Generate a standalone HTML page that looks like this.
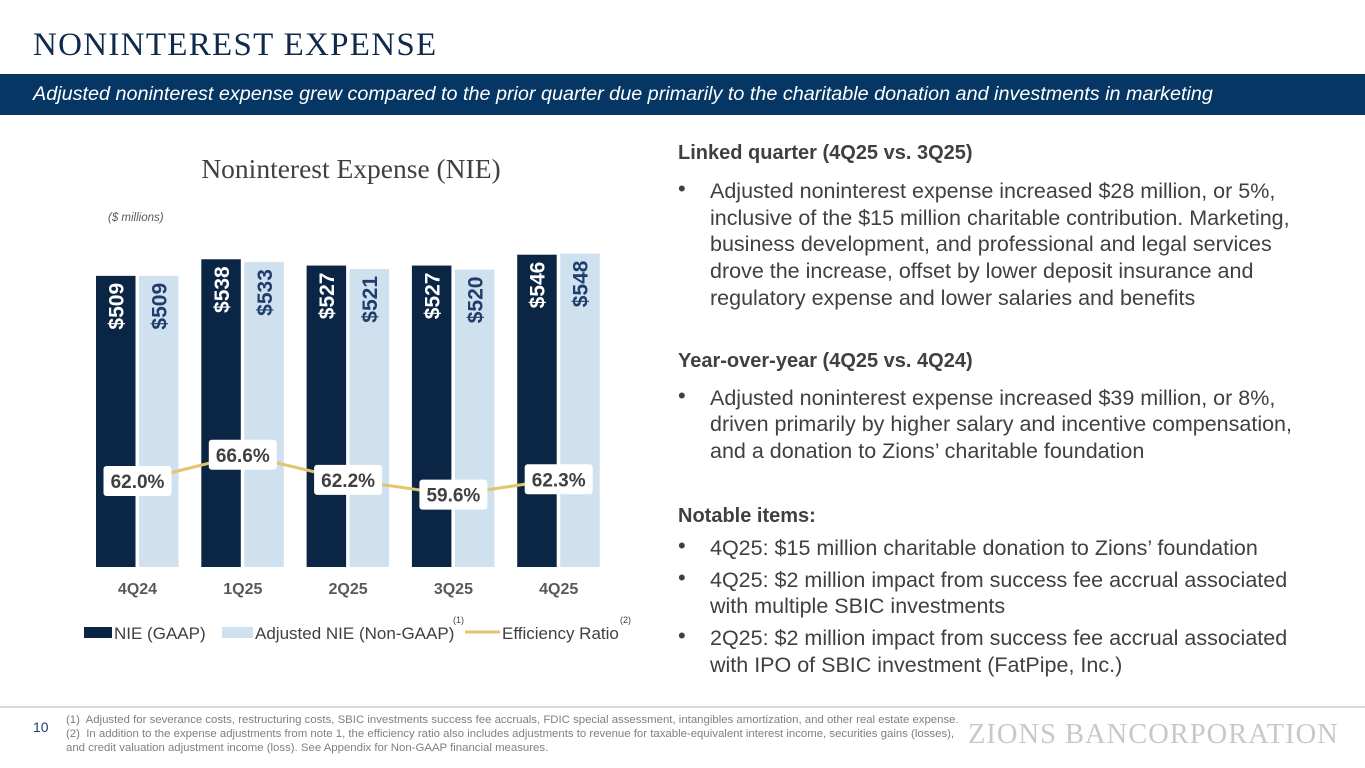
<!DOCTYPE html>
<html><head><meta charset="utf-8">
<style>
body{margin:0;width:1365px;height:768px;position:relative;background:#fff;font-family:"Liberation Sans",sans-serif;overflow:hidden}
.abs{position:absolute}
#title{left:33px;top:27px;font-family:"Liberation Serif",serif;font-size:33px;color:#0f2a4a;letter-spacing:1.3px}
#band{left:0;top:74px;width:1365px;height:41px;background:#063764}
#band span{position:absolute;left:33px;top:9px;color:#fff;font-style:italic;font-size:19.8px;white-space:nowrap}
#rtext{left:678px;top:140px;width:630px;color:#404040;font-size:21.5px;line-height:26.8px}
.h{font-weight:bold;margin:0;font-size:20px}
.b{position:relative;padding-left:32px;margin:0}
.b:before{content:"•";position:absolute;left:0;top:-2px;font-size:22px}
#foot{left:66px;top:713px;font-size:11.4px;color:#7f7f7f;line-height:14px;white-space:nowrap}
#pg{left:33px;top:719px;font-size:14px;color:#1f3c6b}
#logo{left:968px;top:719px;font-family:"Liberation Serif",serif;font-size:28.5px;color:#c8c8c8;letter-spacing:1px;white-space:nowrap}
</style></head><body>
<div id="title" class="abs">NONINTEREST EXPENSE</div>
<div id="band" class="abs"><span>Adjusted noninterest expense grew compared to the prior quarter due primarily to the charitable donation and investments in marketing</span></div>
<svg class="abs" style="left:0;top:0" width="660" height="700">
<text x="351" y="178" text-anchor="middle" font-family="Liberation Serif,serif" font-size="27.5" fill="#404040">Noninterest Expense (NIE)</text>
<text x="108" y="221" font-size="11.5" font-style="italic" fill="#595959">($ millions)</text>
<g id="bars"></g><g id="line"></g><g id="xlabels"></g>
<g>
<rect x="84" y="627" width="28" height="11" fill="#0b2545"/>
<text x="114" y="639" font-size="17" fill="#404040">NIE (GAAP)</text>
<rect x="222" y="627" width="31" height="11" fill="#cfe0ee"/>
<text x="255" y="639" font-size="17" fill="#404040">Adjusted NIE (Non-GAAP)</text>
<text x="453" y="623" font-size="9" fill="#404040">(1)</text>
<line x1="465" y1="632" x2="500" y2="632" stroke="#e3c46f" stroke-width="3"/>
<text x="502" y="639" font-size="17" fill="#404040">Efficiency Ratio</text>
<text x="620" y="623" font-size="9" fill="#404040">(2)</text>
</g>
</svg>
<div id="rtext" class="abs">
<p class="h">Linked quarter (4Q25 vs. 3Q25)</p>
<p class="b" style="margin-top:11px">Adjusted noninterest expense increased $28 million, or 5%, inclusive of the $15 million charitable contribution. Marketing, business development, and professional and legal services drove the increase, offset by lower deposit insurance and regulatory expense and lower salaries and benefits</p>
<p class="h" style="margin-top:36px">Year-over-year (4Q25 vs. 4Q24)</p>
<p class="b" style="margin-top:10px">Adjusted noninterest expense increased $39 million, or 8%, driven primarily by higher salary and incentive compensation, and a donation to Zions’ charitable foundation</p>
<p class="h" style="margin-top:38px">Notable items:</p>
<p class="b" style="margin-top:5px">4Q25: $15 million charitable donation to Zions’ foundation</p>
<p class="b" style="margin-top:5px">4Q25: $2 million impact from success fee accrual associated with multiple SBIC investments</p>
<p class="b" style="margin-top:5px">2Q25: $2 million impact from success fee accrual associated with IPO of SBIC investment (FatPipe, Inc.)</p>
</div>
<div class="abs" style="left:0;top:706px;width:1365px;height:2px;background:#d9d9d9"></div>
<div id="pg" class="abs">10</div>
<div id="foot" class="abs">(1)&nbsp; Adjusted for severance costs, restructuring costs, SBIC investments success fee accruals, FDIC special assessment, intangibles amortization, and other real estate expense.<br>(2)&nbsp; In addition to the expense adjustments from note 1, the efficiency ratio also includes adjustments to revenue for taxable-equivalent interest income, securities gains (losses),<br>and credit valuation adjustment income (loss). See Appendix for Non-GAAP financial measures.</div>
<div id="logo" class="abs">ZIONS BANCORPORATION</div>
<script>
const categories=["4Q24","1Q25","2Q25","3Q25","4Q25"];
const gaapValues=[509,538,527,527,546];
const adjValues=[509,533,521,520,548];
const effRatio=[62.0,66.6,62.2,59.6,62.3];
const NS="http://www.w3.org/2000/svg";
const base=567,k=0.572;
const yBar=v=>base-v*k;
const xCat=i=>137.5+i*105.3;
const yEff=v=>481-(v-62)*5.7;
function el(t,a,p){const e=document.createElementNS(NS,t);for(const n in a)e.setAttribute(n,a[n]);p.appendChild(e);return e;}
const gb=document.getElementById('bars'),gl=document.getElementById('line'),gx=document.getElementById('xlabels');
categories.forEach((c,i)=>{
 const x=xCat(i);
 const r1=el('rect',{x:x-41.5,y:yBar(gaapValues[i]),width:39.5,height:gaapValues[i]*k,fill:'#0b2545'},gb);
 
 
 const r2=el('rect',{x:x+1.5,y:yBar(adjValues[i]),width:39.5,height:adjValues[i]*k,fill:'#cfe0ee'},gb);
 
 
 const t1=el('text',{x:0,y:0,transform:`translate(${x-14},${yBar(gaapValues[i])+7}) rotate(-90)`,'text-anchor':'end','font-size':'21','font-weight':'bold',fill:'#fff'},gb);
 t1.textContent='$'+gaapValues[i];
 
 
 const t2=el('text',{x:0,y:0,transform:`translate(${x+29},${yBar(adjValues[i])+7}) rotate(-90)`,'text-anchor':'end','font-size':'21','font-weight':'bold',fill:'#1f3c6b'},gb);
 t2.textContent='$'+adjValues[i];
 
 
 const xl=el('text',{x:x,y:594,'text-anchor':'middle','font-size':'16','font-weight':'bold',fill:'#595959'},gx);
 xl.textContent=c;
 
 
});
const pts=effRatio.map((v,i)=>xCat(i)+','+yEff(v)).join(' ');
const pl=el('polyline',{points:pts,fill:'none',stroke:'#e3c46f','stroke-width':3},gl);


effRatio.forEach((v,i)=>{
 const x=xCat(i),y=yEff(v);
 const bx=el('rect',{x:x-34,y:y-15,width:68,height:30,rx:3,fill:'#fff'},gl);
 
 
 const t=el('text',{x:x,y:y+7,'text-anchor':'middle','font-size':'19','font-weight':'bold',fill:'#404040'},gl);
 t.textContent=v.toFixed(1)+'%';
 
 
});
</script>
</body></html>
